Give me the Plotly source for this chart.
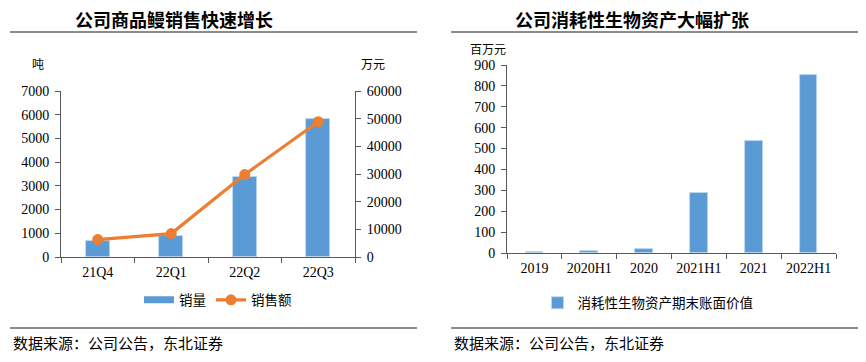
import plotly.graph_objects as go

W, H = 866, 362

# Left chart data
quarters = ["21Q4", "22Q1", "22Q2", "22Q3"]
sales_volume = [670, 890, 3380, 5820]        # 吨
sales_amount = [6300, 8450, 29800, 48900]    # 万元

# Right chart data
periods = ["2019", "2020H1", "2020", "2021H1", "2021", "2022H1"]
bio_assets = [4, 10, 21, 285, 538, 850]      # 百万元

BLUE = "#5B9BD5"
ORANGE = "#ED7D31"
AXIS = "#595959"
SERIF = "Liberation Serif"
CJK = "Noto Sans CJK SC"

def px(x):
    return x / W

def py(y):
    return (H - y) / H

fig = go.Figure()

fig.add_trace(go.Bar(
    x=quarters, y=sales_volume, name="销量", marker=dict(color=BLUE, line=dict(color="#BDD7EE", width=0.8)),
    width=0.32, xaxis="x", yaxis="y", showlegend=False,
))
# legend-only entry giving the wide bar swatch of the reference
fig.add_trace(go.Scatter(
    x=[None], y=[None], name="销量", mode="lines", line=dict(color=BLUE, width=7),
    xaxis="x", yaxis="y", legend="legend",
))
fig.add_trace(go.Scatter(
    x=quarters, y=sales_amount, name="销售额", mode="lines+markers",
    line=dict(color=ORANGE, width=3.2), marker=dict(color=ORANGE, size=11),
    xaxis="x", yaxis="y2", legend="legend",
))
fig.add_trace(go.Bar(
    x=periods, y=bio_assets, name="消耗性生物资产期末账面价值",
    marker=dict(color=BLUE, line=dict(color="#BDD7EE", width=0.8)),
    width=0.32, xaxis="x3", yaxis="y3", legend="legend2",
))

tickfont = dict(family=SERIF, size=14, color="#000")

cat_axis = dict(
    type="category", showgrid=False, showline=True, linecolor=AXIS, linewidth=1,
    ticks="outside", tickson="boundaries", ticklen=5, tickcolor=AXIS,
    tickfont=tickfont, zeroline=False, fixedrange=True, automargin=False,
    ticklabelstandoff=2,
)
val_axis = dict(
    showgrid=False, showline=True, linecolor=AXIS, linewidth=1,
    ticks="outside", ticklen=5, tickcolor=AXIS, tickfont=tickfont,
    zeroline=False, fixedrange=True, automargin=False, tickformat="d",
    ticklabelstandoff=3,
)

fig.update_layout(
    template="none",
    width=W, height=H,
    margin=dict(l=0, r=0, t=0, b=0, autoexpand=False),
    paper_bgcolor="white", plot_bgcolor="white",
    bargap=0,
    xaxis=dict(cat_axis, domain=[px(61), px(355)], anchor="y"),
    yaxis=dict(val_axis, domain=[py(257), py(91)], range=[0, 7000], dtick=1000, anchor="x"),
    yaxis2=dict(val_axis, domain=[py(257), py(91)], range=[0, 60000], dtick=10000,
                overlaying="y", side="right", anchor="x"),
    xaxis3=dict(cat_axis, domain=[px(507), px(836)], anchor="y3"),
    yaxis3=dict(val_axis, domain=[py(253), py(65)], range=[0, 900], dtick=100, anchor="x3"),
    legend=dict(orientation="h", x=px(218), y=py(300), xanchor="center", yanchor="middle",
                font=dict(family=CJK, size=13.5, color="#000"), bgcolor="rgba(0,0,0,0)",
                itemwidth=30, tracegroupgap=0, borderwidth=0),
    legend2=dict(orientation="h", x=px(648), y=py(303), xanchor="center", yanchor="middle",
                 font=dict(family=CJK, size=13.5, color="#000"), bgcolor="rgba(0,0,0,0)",
                 itemwidth=30, borderwidth=0),
)

shapes = []
for x0, x1, y in [(10, 417, 32), (451, 858, 32), (10, 417, 328), (451, 858, 328)]:
    shapes.append(dict(type="line", xref="paper", yref="paper", x0=px(x0), x1=px(x1),
                       y0=py(y), y1=py(y), line=dict(color="#666", width=1.5)))
fig.update_layout(shapes=shapes)

ann = []
def text(x, y, s, size, bold=False, anchor="center"):
    ann.append(dict(xref="paper", yref="paper", x=px(x), y=py(y), text=("<b>%s</b>" % s) if bold else s,
                    showarrow=False, xanchor=anchor, yanchor="middle",
                    font=dict(family=CJK, size=size, color="#000")))

text(174, 19, "公司商品鳗销售快速增长", 18, bold=True)
text(632, 19, "公司消耗性生物资产大幅扩张", 18, bold=True)
text(38, 63, "吨", 12)
text(373, 63, "万元", 12)
text(488, 48, "百万元", 12)
text(11, 342, "数据来源：公司公告，东北证券", 15, anchor="left")
text(452, 342, "数据来源：公司公告，东北证券", 15, anchor="left")
fig.update_layout(annotations=ann)

fig.write_html("out.html", config={"displayModeBar": False},
               post_script="document.body.style.margin='0';")
